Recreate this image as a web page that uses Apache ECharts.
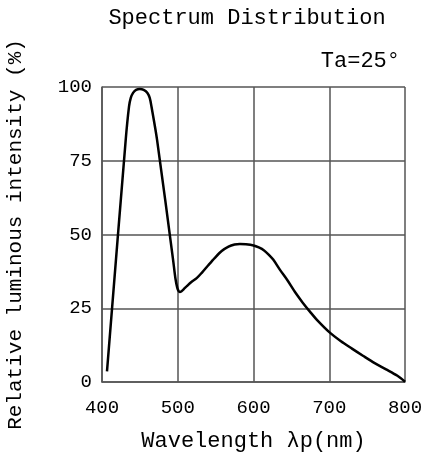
<!DOCTYPE html>
<html>
<head>
<meta charset="utf-8">
<script src="https://cdn.jsdelivr.net/npm/echarts@6/dist/echarts.min.js"></script>
<style>html,body{margin:0;padding:0;background:#fff;}#c{width:427px;height:457px;}</style>
</head>
<body>
<div id="c"></div>
<script>
var titleText = 'Spectrum Distribution';
var conditionText = 'Ta=25°';
var xName = 'Wavelength λp(nm)';
var yName = 'Relative luminous intensity (%)';
var wavelengths = [406.6, 431.3, 435.7, 438, 441, 445, 450, 455, 460, 463, 465.3, 472.7, 493.8, 497, 499.4, 501, 502.7, 505, 508, 512, 518, 525, 532, 540, 549, 558, 567, 575, 582, 590, 600, 607, 614, 620, 626, 635, 645, 655, 665, 675, 685, 700, 715, 730, 745, 760, 775, 790, 800];
var intensity   = [3.6,   82.1,  93.4,  96.3, 98,  99,  99.3, 99,  98,  96.3, 93.4, 82.1, 41.5, 35,  31.9,  30.9, 30.5,  30.8, 31.5, 32.5, 33.9, 35.2, 37.1, 39.5, 42.1, 44.4, 45.9, 46.6, 46.8, 46.7, 46.3, 45.6, 44.6, 43.2, 41.5, 38,  34.4, 30.4, 26.9, 23.7, 20.7, 16.9, 13.9, 11.3, 8.8, 6.4, 4.3, 2.1, 0.1];
var xTicks = [400, 500, 600, 700, 800];
var yTicks = [0, 25, 50, 75, 100];

var font = 'Liberation Mono';
var chart = echarts.init(document.getElementById('c'), null, {renderer: 'canvas'});
chart.setOption({
  animation: false,
  backgroundColor: '#fff',
  title: [
    {text: titleText, left: 242, top: 2, textAlign: 'center',
     textStyle: {fontFamily: font, fontSize: 22, fontWeight: 'normal', color: '#000'}},
    {text: conditionText, right: 22, top: 45,
     textStyle: {fontFamily: font, fontSize: 22, fontWeight: 'normal', color: '#000'}}
  ],
  grid: {left: 102, right: 22, top: 87, bottom: 75, outerBoundsMode: 'none', containLabel: false},
  xAxis: {
    type: 'value', min: 400, max: 800, interval: 100,
    name: xName, nameLocation: 'middle', nameGap: 48,
    nameTextStyle: {fontFamily: font, fontSize: 22, color: '#000'},
    axisLine: {show: true, lineStyle: {color: '#555', width: 1.5}},
    axisTick: {show: false},
    axisLabel: {fontFamily: font, fontSize: 19, color: '#000', margin: 16},
    splitLine: {show: true, lineStyle: {color: '#555', width: 1.5}}
  },
  yAxis: {
    type: 'value', min: 0, max: 100, interval: 25,
    name: yName, nameLocation: 'middle', nameGap: 76,
    nameTextStyle: {fontFamily: font, fontSize: 21, color: '#000'},
    axisLine: {show: true, lineStyle: {color: '#555', width: 1.5}},
    axisTick: {show: false},
    axisLabel: {fontFamily: font, fontSize: 19, color: '#000', margin: 10},
    splitLine: {show: true, lineStyle: {color: '#555', width: 1.5}}
  },
  series: [{
    type: 'line',
    data: wavelengths.map(function (w, i) { return [w, intensity[i]]; }),
    showSymbol: false,
    smooth: 0.3,
    lineStyle: {color: '#000', width: 2.5},
    z: 5
  }]
});
</script>
</body>
</html>
